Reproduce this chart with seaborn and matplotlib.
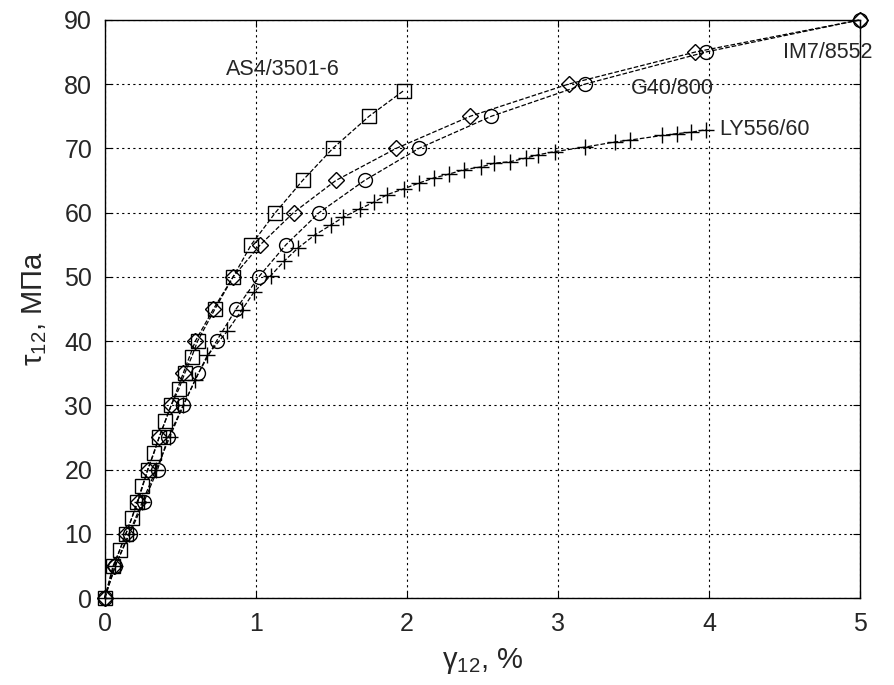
import numpy as np
import matplotlib
matplotlib.use('Agg')
import matplotlib.pyplot as plt
import seaborn as sns

# AS4/3501-6 (squares)
x_as4 = [0, 0.055, 0.10, 0.14, 0.18, 0.215, 0.25, 0.285, 0.325, 0.36, 0.40, 0.44, 0.49, 0.53, 0.575, 0.615,
         0.73, 0.85, 0.97, 1.13, 1.31, 1.51, 1.75, 1.98]
y_as4 = [0, 5, 7.5, 10, 12.5, 15, 17.5, 20, 22.5, 25, 27.5, 30, 32.5, 35, 37.5, 40,
         45, 50, 55, 60, 65, 70, 75, 79]

# IM7/8552 (diamonds)
x_im7 = [0, 0.06, 0.14, 0.22, 0.285, 0.36, 0.44, 0.52, 0.60, 0.72, 0.85, 1.03, 1.25, 1.53, 1.93, 2.42, 3.07, 3.91, 5.0]
y_im7 = [0, 5, 10, 15, 20, 25, 30, 35, 40, 45, 50, 55, 60, 65, 70, 75, 80, 85, 90]

# G40/800 (circles)
x_g40 = [0, 0.07, 0.165, 0.26, 0.35, 0.42, 0.52, 0.62, 0.74, 0.87, 1.02, 1.20, 1.42, 1.72, 2.08, 2.56, 3.18, 3.98, 5.0]
y_g40 = [0, 5, 10, 15, 20, 25, 30, 35, 40, 45, 50, 55, 60, 65, 70, 75, 80, 85, 90]

# LY556/60 (crosses)
x_ly = [0, 0.07, 0.16, 0.25, 0.34, 0.43, 0.52, 0.60, 0.68, 0.81, 0.91, 0.99, 1.10, 1.19, 1.28, 1.39, 1.50, 1.58,
        1.69, 1.78, 1.87, 1.98, 2.08, 2.18, 2.28, 2.38, 2.49, 2.58, 2.68, 2.79, 2.87, 2.98, 3.18, 3.38, 3.48,
        3.69, 3.79, 3.88, 3.98]
y_ly = [0, 5, 10, 15, 20, 25, 30, 34, 37.8, 41.5, 44.9, 47.7, 50.2, 52.5, 54.5, 56.5, 58.1, 59.3,
        60.6, 61.6, 62.8, 63.7, 64.6, 65.4, 66.0, 66.7, 67.1, 67.7, 67.9, 68.5, 69.0, 69.5, 70.2, 71.0, 71.3,
        72.0, 72.3, 72.5, 72.9]

sns.set_style("ticks")
plt.rcParams['font.family'] = ['Liberation Sans', 'DejaVu Sans']
plt.rcParams['mathtext.fontset'] = 'custom'
plt.rcParams['mathtext.rm'] = 'Liberation Sans'
plt.rcParams['mathtext.it'] = 'Liberation Sans'

fig, ax = plt.subplots(figsize=(8.95, 6.85), dpi=100)
fig.subplots_adjust(left=0.117, right=0.961, top=0.971, bottom=0.127)

kw = dict(color='black', linestyle='--', linewidth=0.9, markerfacecolor='none',
          markeredgecolor='black', markeredgewidth=1.0, sort=False, ax=ax, clip_on=False)
sns.lineplot(x=x_ly, y=y_ly, marker='+', markersize=12, **kw)
sns.lineplot(x=x_g40, y=y_g40, marker='o', markersize=10, **kw)
sns.lineplot(x=x_im7, y=y_im7, marker='D', markersize=8.5, **kw)
sns.lineplot(x=x_as4, y=y_as4, marker='s', markersize=10.5, **kw)

ax.text(0.8, 82.3, 'AS4/3501-6', fontsize=15.5, va='center')
ax.text(3.48, 79.3, 'G40/800', fontsize=15.5, va='center')
ax.text(4.49, 84.9, 'IM7/8552', fontsize=15.5, va='center')
ax.text(4.07, 72.9, 'LY556/60', fontsize=15.5, va='center')

ax.set_xlim(0, 5)
ax.set_ylim(0, 90)
ax.set_xticks(range(0, 6))
ax.set_yticks(range(0, 91, 10))
ax.grid(True, color='black', linestyle=(0, (2, 3)), linewidth=0.8)
ax.tick_params(direction='in', labelsize=18, length=5, top=True, right=True, color='black')
ax.tick_params(axis='x', pad=10)
ax.tick_params(axis='y', pad=9)
for s in ax.spines.values():
    s.set_visible(True)
    s.set_color('black')
    s.set_linewidth(1.0)

ax.set_xlabel('γ$_{12}$, %', fontsize=21, labelpad=7)
ax.set_ylabel('τ$_{12}$, МПа', fontsize=21, labelpad=11)

plt.savefig('out.png', dpi=100)
